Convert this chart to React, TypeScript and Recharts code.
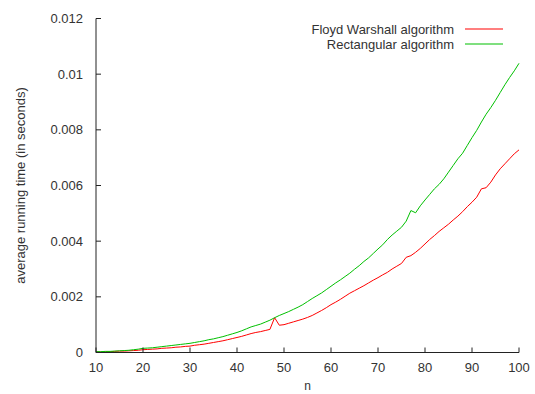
import React from "react";
import { LineChart, Line, XAxis, YAxis, Legend } from "recharts";

const nValues = [
  10, 11, 12, 13, 14, 15, 16, 17, 18, 19,
  20, 21, 22, 23, 24, 25, 26, 27, 28, 29,
  30, 31, 32, 33, 34, 35, 36, 37, 38, 39,
  40, 41, 42, 43, 44, 45, 46, 47, 48, 49,
  50, 51, 52, 53, 54, 55, 56, 57, 58, 59,
  60, 61, 62, 63, 64, 65, 66, 67, 68, 69,
  70, 71, 72, 73, 74, 75, 76, 77, 78, 79,
  80, 81, 82, 83, 84, 85, 86, 87, 88, 89,
  90, 91, 92, 93, 94, 95, 96, 97, 98, 99,
  100,
];

const floydWarshall = [
  0.00002, 0.00002, 0.00003, 0.00003, 0.00004, 0.00005, 0.00005, 0.00006, 0.00007, 0.00008,
  0.0001, 0.00011, 0.00012, 0.00013, 0.00015, 0.00016, 0.00017, 0.00019, 0.0002, 0.00022,
  0.00023, 0.00026, 0.00028, 0.0003, 0.00033, 0.00036, 0.00039, 0.00042, 0.00046, 0.0005,
  0.00054, 0.00058, 0.00063, 0.00068, 0.00072, 0.00075, 0.00079, 0.00083, 0.00125, 0.00098,
  0.001, 0.00105, 0.0011, 0.00115, 0.0012, 0.00126, 0.00133, 0.00142, 0.00151, 0.00161,
  0.00172, 0.00181, 0.00191, 0.00202, 0.00213, 0.00222, 0.00231, 0.0024, 0.0025, 0.0026,
  0.00269, 0.00279, 0.00288, 0.003, 0.0031, 0.0032, 0.00342, 0.00348, 0.0036, 0.00374,
  0.0039, 0.00406, 0.0042, 0.00435, 0.00448, 0.00461, 0.00476, 0.0049, 0.00506, 0.00524,
  0.0054, 0.00558, 0.00588, 0.00592, 0.00612, 0.00638, 0.0066, 0.00678, 0.00696, 0.00714,
  0.00728,
];

const rectangular = [
  0.00003, 0.00003, 0.00004, 0.00004, 0.00005, 0.00006, 0.00007, 0.00008, 0.0001, 0.00012,
  0.00015, 0.00016, 0.00017, 0.00019, 0.00021, 0.00023, 0.00025, 0.00027, 0.00029, 0.00031,
  0.00033, 0.00036, 0.00039, 0.00042, 0.00046, 0.00049, 0.00053, 0.00057, 0.00062, 0.00067,
  0.00072, 0.00078, 0.00085, 0.00092, 0.00097, 0.00102, 0.00109, 0.00116, 0.00125, 0.00133,
  0.0014, 0.00147, 0.00155, 0.00163, 0.00172, 0.00183, 0.00194, 0.00204, 0.00214, 0.00226,
  0.00238, 0.0025, 0.00261, 0.00273, 0.00285, 0.00299, 0.00312, 0.00327, 0.0034, 0.00356,
  0.00372, 0.00387, 0.00406, 0.00422, 0.00436, 0.0045, 0.00472, 0.0051, 0.00502, 0.00527,
  0.00548, 0.00568, 0.00588, 0.00604, 0.00624, 0.00648, 0.00672, 0.00696, 0.00716, 0.00744,
  0.00772, 0.00798, 0.00828, 0.00856, 0.0088, 0.00906, 0.00934, 0.00962, 0.00988, 0.01012,
  0.01039,
];

const xTicks = [10, 20, 30, 40, 50, 60, 70, 80, 90, 100];
const yTicks = [0, 0.002, 0.004, 0.006, 0.008, 0.01, 0.012];

const data = nValues.map((n, i) => ({
  n,
  floyd: floydWarshall[i],
  rect: rectangular[i],
}));

const FONT = "'Liberation Sans', Arial, sans-serif";
const TEXT = "#333";
const AXIS = "#222";
const TICK = 5;
const RED = "#ff0000";
const GREEN = "#00c000";
const legendColors: Record<string, string> = {
  "Floyd Warshall algorithm": RED,
  "Rectangular algorithm": GREEN,
};

function LeftTick(props: any) {
  const { x, y, payload } = props;
  return (
    <g>
      <line x1={x} x2={x + TICK} y1={y} y2={y} stroke={AXIS} />
      <text x={x - 13} y={y + 4.6} textAnchor="end" fontSize={13} fill={TEXT} fontFamily={FONT}>
        {payload.value}
      </text>
    </g>
  );
}

function BottomTick(props: any) {
  const { x, y, payload } = props;
  return (
    <g>
      <line x1={x} x2={x} y1={y} y2={y - TICK} stroke={AXIS} />
      <text x={x} y={y + 19} textAnchor="middle" fontSize={13} fill={TEXT} fontFamily={FONT}>
        {payload.value}
      </text>
    </g>
  );
}

function RightTick(props: any) {
  const { x, y } = props;
  return <line x1={x - TICK} x2={x} y1={y} y2={y} stroke={AXIS} />;
}

function TopTick(props: any) {
  const { x, y } = props;
  return <line x1={x} x2={x} y1={y} y2={y + TICK} stroke={AXIS} />;
}

function XLabel(props: any) {
  const vb = props.viewBox;
  return (
    <text
      x={vb.x + vb.width / 2}
      y={vb.y + 37.5}
      textAnchor="middle"
      fontSize={12}
      fill={TEXT}
      fontFamily={FONT}
    >
      n
    </text>
  );
}

function YLabel(props: any) {
  const vb = props.viewBox;
  const cx = 20;
  const cy = vb.y + vb.height / 2;
  return (
    <text
      x={cx}
      y={cy}
      transform={`rotate(-90 ${cx} ${cy})`}
      textAnchor="middle"
      dominantBaseline="central"
      fontSize={13}
      fill={TEXT}
      fontFamily={FONT}
    >
      average running time (in seconds)
    </text>
  );
}

function LegendBox(props: any) {
  const items = props.payload || [];
  return (
    <div style={{ fontFamily: FONT, fontSize: 13, color: TEXT }}>
      {items.map((item: any) => (
        <div
          key={item.value}
          style={{ display: "flex", alignItems: "center", height: 15, lineHeight: "15px" }}
        >
          <span style={{ flex: 1, textAlign: "right", whiteSpace: "nowrap" }}>{item.value}</span>
          <svg width={38} height={15} style={{ marginLeft: 11, marginRight: 7 }}>
            <line
              x1={0}
              x2={38}
              y1={7}
              y2={7}
              stroke={legendColors[item.value] || item.color}
              strokeWidth={1.2}
            />
          </svg>
        </div>
      ))}
    </div>
  );
}

export default function App() {
  return (
    <div style={{ position: "absolute", left: 0, top: 0, background: "#fff" }}>
      <LineChart
        width={535}
        height={394}
        data={data}
        margin={{ top: 18.5, right: 16, bottom: 0, left: 0 }}
      >
        <XAxis
          dataKey="n"
          type="number"
          domain={[10, 100]}
          ticks={xTicks}
          height={41.5}
          tickSize={0}
          tickMargin={0}
          tickLine={false}
          axisLine={{ stroke: AXIS }}
          tick={<BottomTick />}
          label={{ content: <XLabel /> }}
        />
        <XAxis
          xAxisId="top"
          dataKey="n"
          type="number"
          orientation="top"
          domain={[10, 100]}
          ticks={xTicks}
          height={0}
          tickSize={0}
          tickMargin={0}
          tickLine={false}
          axisLine={{ stroke: AXIS }}
          tick={<TopTick />}
        />
        <YAxis
          type="number"
          domain={[0, 0.012]}
          ticks={yTicks}
          width={96}
          tickSize={0}
          tickMargin={0}
          tickLine={false}
          axisLine={{ stroke: AXIS }}
          tick={<LeftTick />}
          label={{ content: <YLabel /> }}
        />
        <YAxis
          yAxisId="right"
          orientation="right"
          type="number"
          domain={[0, 0.012]}
          ticks={yTicks}
          width={0}
          tickSize={0}
          tickMargin={0}
          tickLine={false}
          axisLine={{ stroke: AXIS }}
          tick={<RightTick />}
        />
        <Legend
          layout="horizontal"
          align="center"
          verticalAlign="middle"
          content={<LegendBox />}
          wrapperStyle={{ top: 22, left: 280, width: 230 }}
        />
        <Line
          type="linear"
          dataKey="floyd"
          name="Floyd Warshall algorithm"
          stroke={RED}
          strokeWidth={1}
          dot={false}
          isAnimationActive={false}
        />
        <Line
          type="linear"
          dataKey="rect"
          name="Rectangular algorithm"
          stroke={GREEN}
          strokeWidth={1}
          dot={false}
          isAnimationActive={false}
        />
      </LineChart>
    </div>
  );
}
